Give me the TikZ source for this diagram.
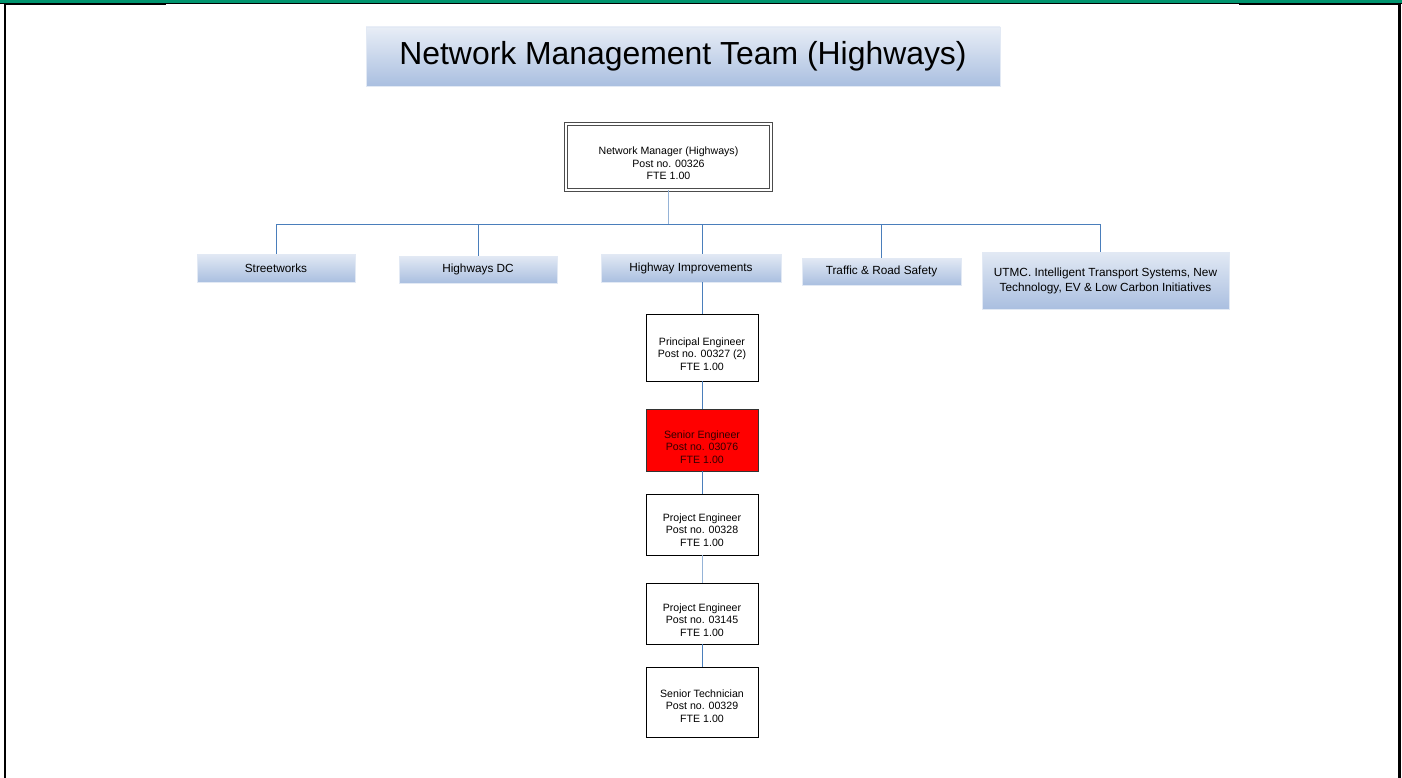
\documentclass[tikz,border=0pt]{standalone}
\usepackage{fontspec}
\setmainfont{Liberation Sans}
\definecolor{frgreen}{RGB}{0,148,110}
\definecolor{gradtop}{RGB}{226,233,244}
\definecolor{gradbot}{RGB}{170,191,224}
\definecolor{linkblue}{RGB}{74,126,187}
\definecolor{linklight}{RGB}{149,179,215}
\definecolor{redtext}{RGB}{50,0,0}
\tikzset{
  catbox/.style={top color=gradtop, bottom color=gradbot, draw=gradtop, line width=0.6pt, inner sep=0pt, align=center, font=\fontsize{11.8}{15}\selectfont},
  postbox/.style={draw=black, line width=0.9pt, fill=white, inner sep=0pt, minimum width=112pt},
  posttext/.style={inner sep=0pt, align=center, font=\fontsize{10.6}{12.4}\selectfont},
  link/.style={draw=linkblue, line width=0.9pt},
}
\begin{document}
\begin{tikzpicture}[x=1pt,y=-1pt]
\useasboundingbox (0,0) rectangle (1402,778);
% frame
\fill[frgreen] (0,0) rectangle (1402,3.4);
\draw[black, line width=0.8pt] (0,3.6) -- (1402,3.6);
\fill[black] (4,3) rectangle (166,5.2);
\fill[black] (1239,3) rectangle (1400.5,5.2);
\fill[black] (4,3) rectangle (6.2,778);
\fill[black] (1398.4,3) rectangle (1400.5,778);
% title
\node[top color=gradtop!80!white, bottom color=gradbot, draw=gradtop, line width=0.6pt, minimum width=634pt, minimum height=59pt, inner sep=0pt,
      font=\fontsize{31.9}{38}\selectfont] (title) at (683,56.5) {Network Management Team (Highways)};
% manager
\node[draw=black!70, double=white, double distance=1.6pt, line width=0.9pt, minimum width=205pt, minimum height=66pt, inner sep=0pt] (nm) at (668.5,157) {};
\node[posttext] (nmt) at ([yshift=-6.5pt]nm.center) {Network Manager (Highways)\\Post no. 00326\\FTE 1.00};
% categories
\node[catbox, minimum width=158pt, minimum height=28pt] (sw) at (276,268) {Streetworks};
\node[catbox, minimum width=158pt, minimum height=27pt] (hdc) at (478,269.5) {Highways DC};
\node[catbox, minimum width=180pt, minimum height=28pt] (hi) at (691,268) {Highway Improvements};
\node[catbox, minimum width=159pt, minimum height=27pt] (trs) at (881.5,271.5) {Traffic \& Road Safety};
\node[catbox, minimum width=247pt, minimum height=57pt] (utmc) at (1105.5,280.5) {UTMC. Intelligent Transport Systems, New\\Technology, EV \& Low Carbon Initiatives};
% posts
\node[postbox, minimum height=67pt] (pe) at (702,347.5) {};
\node[posttext] (pet) at ([yshift=-6.5pt]pe.center) {Principal Engineer\\Post no. 00327 (2)\\FTE 1.00};
\node[postbox, fill=red, draw=black!80, minimum height=62pt] (se) at (702,440) {};
\node[posttext, text=redtext] (set) at ([yshift=-7pt]se.center) {Senior Engineer\\Post no. 03076\\FTE 1.00};
\node[postbox, minimum height=61pt] (pj1) at (702,524.5) {};
\node[posttext] (pj1t) at ([yshift=-5.5pt]pj1.center) {Project Engineer\\Post no. 00328\\FTE 1.00};
\node[postbox, minimum height=61pt] (pj2) at (702,613.5) {};
\node[posttext] (pj2t) at ([yshift=-6.5pt]pj2.center) {Project Engineer\\Post no. 03145\\FTE 1.00};
\node[postbox, minimum height=70pt] (tech) at (702,702) {};
\node[posttext] (techt) at ([yshift=-4pt]tech.center) {Senior Technician\\Post no. 00329\\FTE 1.00};
% connectors
\coordinate (bl) at (276,224);
\coordinate (br) at (1100,224);
\draw[draw=linklight, line width=1.6pt] (nm.south) -- (nm.south |- bl);
\draw[link] (bl) -- (br);
\draw[link] (sw.north) -- (sw.north |- bl);
\draw[link] (hdc.north) -- (hdc.north |- bl);
\draw[link] ([xshift=11pt]hi.north) -- ([xshift=11pt]hi.north |- bl);
\draw[link] (trs.north) -- (trs.north |- bl);
\draw[link] ([xshift=-5.5pt]utmc.north) -- ([xshift=-5.5pt]utmc.north |- bl);
\draw[link] ([xshift=11pt]hi.south) -- (pe.north);
\draw[link] (pe.south) -- (se.north);
\draw[link] (se.south) -- (pj1.north);
\draw[link, draw=linklight] (pj1.south) -- (pj2.north);
\draw[link] (pj2.south) -- (tech.north);
\end{tikzpicture}
\end{document}
